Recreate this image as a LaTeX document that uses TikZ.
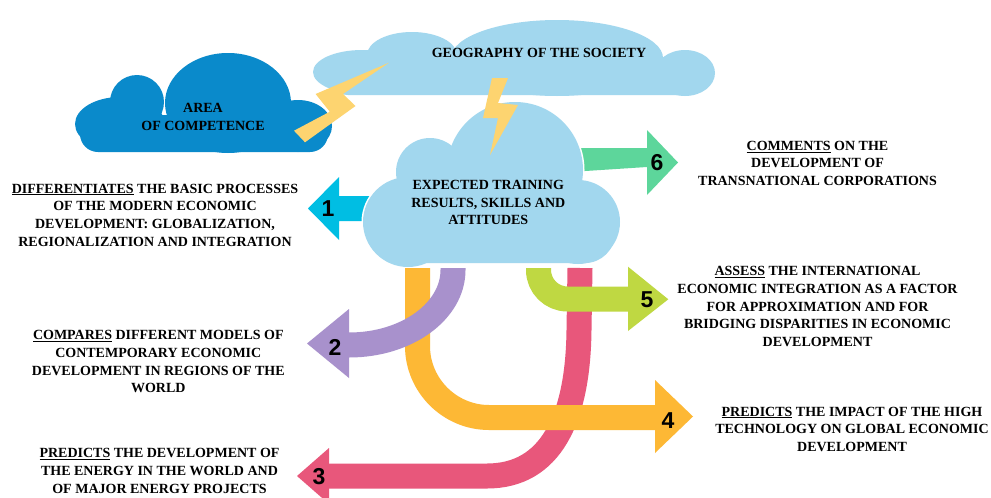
\documentclass[tikz,border=0pt]{standalone}
\usepackage{fontspec}
\setmainfont{Liberation Serif}
\newfontfamily\numfont{Liberation Sans}
\definecolor{cloudL}{HTML}{A2D7EE}
\definecolor{cloudD}{HTML}{0A8ACB}
\definecolor{boltC}{HTML}{FDD470}
\definecolor{cyanC}{HTML}{00BEE3}
\definecolor{greenC}{HTML}{5DD69B}
\definecolor{purpleC}{HTML}{A891CC}
\definecolor{orangeC}{HTML}{FDB835}
\definecolor{limeC}{HTML}{BFD842}
\definecolor{pinkC}{HTML}{E8577B}
\tikzset{
  lbl/.style={font=\bfseries\fontsize{14}{17.7}\selectfont, align=center, inner sep=0pt, text=black},
  numlbl/.style={font=\numfont\bfseries\fontsize{23}{23}\selectfont, inner sep=0pt, text=black},
  band/.style={line width=25pt, line cap=butt, draw=#1},
  outl/.style={draw=white, line width=3pt, fill=white},
}
\newcommand\areacloud[1]{%
  \path[#1, rounded corners=18pt] (80,115) rectangle (328,152);
  \path[#1] (120,124) ellipse [x radius=45, y radius=27];
  \path[#1] (137,102) circle [radius=27];
  \path[#1] (228,103) ellipse [x radius=63, y radius=50];
  \path[#1] (298,126) ellipse [x radius=34, y radius=26];
}
\newcommand\geocloud[1]{%
  \path[#1, rounded corners=18pt] (330,62) rectangle (705,95);
  \path[#1] (362,72) ellipse [x radius=49, y radius=22];
  \path[#1] (412,55) ellipse [x radius=45, y radius=23];
  \path[#1] (557,58) ellipse [x radius=106, y radius=38];
  \path[#1] (685,73) ellipse [x radius=30, y radius=23];
}
\newcommand\maincloud[1]{%
  \path[#1, rounded corners=30pt] (370,200) rectangle (615,263);
  \path[#1] (408,222) ellipse [x radius=45, y radius=45];
  \path[#1] (430,172) circle [radius=34];
  \path[#1] (515,170) circle [radius=68];
  \path[#1] (578,222) circle [radius=42];
}
\begin{document}
\begin{tikzpicture}[x=1pt,y=-1pt]
\useasboundingbox (0,0) rectangle (991,498);
\clip (0,0) rectangle (991,498);
\fill[white] (0,0) rectangle (991,498);

% upper clouds
\areacloud{fill=cloudD}
\geocloud{fill=cloudL}

% arrows 1 and 6 (behind main cloud)
\fill[cyanC] (375,196) -- (339,196) -- (339,177) -- (308,208.5) -- (339,240) -- (339,221) -- (375,221) -- cycle;
\fill[greenC] (570,148) -- (647,148) -- (647,130) -- (678,162.5) -- (647,195) -- (647,167) -- (570,172) -- cycle;

% main cloud
\maincloud{outl}
\maincloud{fill=cloudL}

% band coordinates
\coordinate (p0) at (580,268);
\coordinate (p1) at (579,330);
\coordinate (p2) at (487,476);
\coordinate (p3) at (328,476);
\coordinate (o0) at (417.5,268);
\coordinate (o1) at (417.5,346);
\coordinate (o2) at (489,417.5);
\coordinate (o3) at (656,417.5);
\coordinate (u0) at (453,268);
\coordinate (u1) at (453,270);
\coordinate (u2) at (349,345);
\coordinate (l0) at (538.5,268);
\coordinate (l1) at (538.5,270);
\coordinate (l2) at (567.5,299);
\coordinate (l3) at (629,299);

% pink (3)
\draw[band=pinkC] (p0) -- (p1) .. controls (578,420) and (550,476) .. (p2) -- (p3);
\fill[pinkC] (329,448) -- (297,476) -- (329,504) -- cycle;
% orange (4)
\draw[band=orangeC] (o0) -- (o1) .. controls (417.5,385.3) and (449.7,417.5) .. (o2) -- (o3);
\fill[orangeC] (655,380) -- (693,416.5) -- (655,453) -- cycle;
% purple (2)
\draw[band=purpleC] (u0) -- (u1) .. controls (453,311) and (407,345) .. (u2);
\fill[purpleC] (349,309) -- (307,343.5) -- (349,378) -- cycle;
% lime (5)
\draw[band=limeC] (l0) -- (l1) .. controls (538.5,286) and (551.5,299) .. (l2) -- (l3);
\fill[limeC] (628,266.7) -- (668.3,299.3) -- (628,331) -- cycle;

% bolts
\fill[boltC] (389,62.7) -- (315.6,94) -- (329.8,111.7) -- (294,130.7) -- (305,142.3) -- (355.5,106) -- (343,94) -- cycle;
\fill[boltC] (492,78) -- (508,78) -- (498,103) -- (518,105) -- (490,155) -- (498,118) -- (483,118) -- cycle;

% numbers
\node[numlbl] (n1) at (328,208.5) {1};
\node[numlbl] (n2) at (335,347) {2};
\node[numlbl] (n3) at (319,477) {3};
\node[numlbl] (n4) at (668,421) {4};
\node[numlbl] (n5) at (647,300) {5};
\node[numlbl] (n6) at (657,163) {6};

% cloud texts
\node[lbl] (geo) at (539,53) {GEOGRAPHY OF THE SOCIETY};
\node[lbl] (area) at (203,117) {AREA\\OF COMPETENCE};
\node[lbl] (main) at (488.3,202.5) {EXPECTED TRAINING\\RESULTS, SKILLS AND\\ATTITUDES};

% outcome texts
\node[lbl] (t1) at (155,215) {\underline{DIFFERENTIATES} THE BASIC PROCESSES\\OF THE MODERN ECONOMIC\\DEVELOPMENT: GLOBALIZATION,\\REGIONALIZATION AND INTEGRATION};
\node[lbl] (t6) at (817.5,163.3) {\underline{COMMENTS} ON THE\\DEVELOPMENT OF\\TRANSNATIONAL CORPORATIONS};
\node[lbl] (t5) at (817.5,306.7) {\underline{ASSESS} THE INTERNATIONAL\\ECONOMIC INTEGRATION AS A FACTOR\\FOR APPROXIMATION AND FOR\\BRIDGING DISPARITIES IN ECONOMIC\\DEVELOPMENT};
\node[lbl] (t2) at (158.3,361.7) {\underline{COMPARES} DIFFERENT MODELS OF\\CONTEMPORARY ECONOMIC\\DEVELOPMENT IN REGIONS OF THE\\WORLD};
\node[lbl] (t4) at (852,429.2) {\underline{PREDICTS} THE IMPACT OF THE HIGH\\TECHNOLOGY ON GLOBAL ECONOMIC\\DEVELOPMENT};
\node[lbl] (t3) at (159.5,470.8) {\underline{PREDICTS} THE DEVELOPMENT OF\\THE ENERGY IN THE WORLD AND\\OF MAJOR ENERGY PROJECTS};
\end{tikzpicture}
\end{document}
